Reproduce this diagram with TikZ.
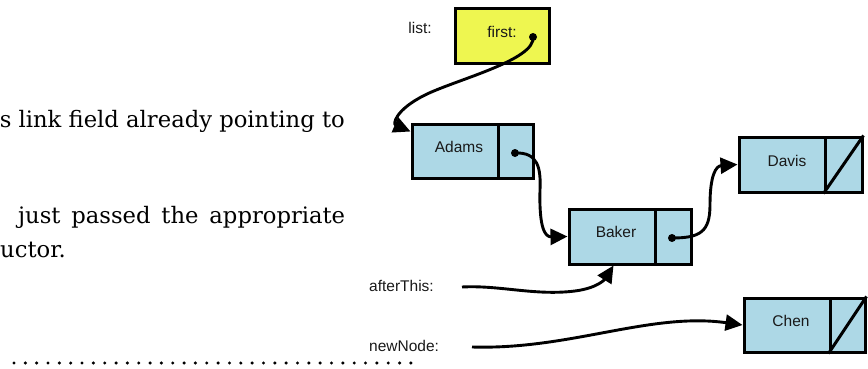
\documentclass[tikz,border=0pt]{standalone}
\usepackage{fontspec}
\setmainfont{DejaVu Serif}
\newfontfamily\labelfont{Liberation Sans}
\usetikzlibrary{arrows.meta,calc}
\definecolor{cellblue}{RGB}{173,216,230}
\definecolor{headyellow}{RGB}{238,246,80}
\newlength\firstlinewd
% size the body text so that its first line fills the column
\AtBeginDocument{%
  \settowidth\firstlinewd{\normalfont\fontsize{10}{12}\selectfont s link field already pointing to}%
  \pgfmathsetmacro\prosesize{10*345/\firstlinewd}%
}

\begin{document}
\begin{tikzpicture}[x=1pt,y=-1pt,
  cell/.style={draw=black, line width=3pt, fill=cellblue, inner sep=0pt, minimum height=54pt},
  headbox/.style={draw=black, line width=3pt, fill=headyellow, inner sep=0pt,
                  minimum width=94pt, minimum height=55pt},
  tag/.style={font=\labelfont\fontsize{15.5}{18}\selectfont, text=black!90, inner sep=0pt},
  ptrdot/.style={circle, fill=black, inner sep=0pt, minimum size=8pt},
  link/.style={line width=2.9pt, -{Triangle[length=17pt,width=16pt]}},
  prose/.style={inner sep=0pt, font=\fontsize{\prosesize}{30}\selectfont}
]
\useasboundingbox (0,0) rectangle (868,369);

% running text of the page
\node[prose, anchor=base east] (proseA) at (345,127) {s link field already pointing to};
\node[prose, anchor=base west] (proseB) at (18,223) {\makebox[327pt][s]{just passed the appropriate}};
\node[prose, anchor=base west] (proseC) at (0,257) {uctor.};

% dotted rule
\coordinate (rulel) at (14,363);
\coordinate (ruler) at (411,363);
\draw[line width=3.4pt, line cap=round, dash pattern=on 0pt off 11.34pt] (rulel) -- (ruler);

% list head
\node[tag] (listtag) at (420,28) {list:};
\node[headbox] (head) at (502,36.5) {};
\node[tag] (firsttext) at (502,32) {first:};
\node[ptrdot] (headdot) at (533,37) {};

% Adams
\node[cell, minimum width=86pt] (adams) at (455,151) {};
\node[cell, minimum width=35pt] (adamsptr) at (515.5,151) {};
\node[tag] (adamstext) at (459,147) {Adams};
\node[ptrdot] (adamsdot) at (515,153) {};

% Baker
\node[cell, minimum width=86pt, minimum height=55pt] (baker) at (612,236.5) {};
\node[cell, minimum width=36pt, minimum height=55pt] (bakerptr) at (673,236.5) {};
\node[tag] (bakertext) at (616,232) {Baker};
\node[ptrdot] (bakerdot) at (672,238) {};

% Davis
\node[cell, minimum width=86pt, minimum height=55pt] (davis) at (782,164.5) {};
\node[cell, minimum width=37pt, minimum height=55pt] (davisptr) at (843.5,164.5) {};
\node[tag] (davistext) at (787,161) {Davis};
\draw[line width=3pt] (davisptr.south west) -- (davisptr.north east);

% Chen
\node[cell, minimum width=86pt] (chen) at (787,325) {};
\node[cell, minimum width=35pt] (chenptr) at (847.5,325) {};
\node[tag] (chentext) at (791,321) {Chen};
\draw[line width=3pt] (chenptr.south west) -- (chenptr.north east);

% variable names
\node[tag, anchor=west] (afterthis) at (369,286) {afterThis:};
\node[tag, anchor=west] (newnode) at (369,346) {newNode:};
\coordinate (atstart) at (462,287);
\coordinate (nnstart) at (472,347);

% links
\draw[link] (headdot.center) .. controls (536,60) and (455,80) .. (425,95)
            .. controls (395,110) and (393,124) .. ($(adams.north west)+(0,9)$);
\draw[link] (adamsdot.center) .. controls (538,152) and (541,168) .. (540,190)
            .. controls (539,228) and (545,237) .. (baker.west);
\draw[link] (bakerdot.center) .. controls (700,238) and (710,232) .. (710,205)
            .. controls (710,175) and (716,166) .. (davis.west);
\draw[link] (atstart) .. controls (500,285) and (535,296) .. (575,291)
            .. controls (598,288) and (605,279) .. ($(baker.south west)+(46,0)$);
\draw[link] (nnstart) .. controls (570,350) and (650,312) .. (chen.west);
\end{tikzpicture}
\end{document}
